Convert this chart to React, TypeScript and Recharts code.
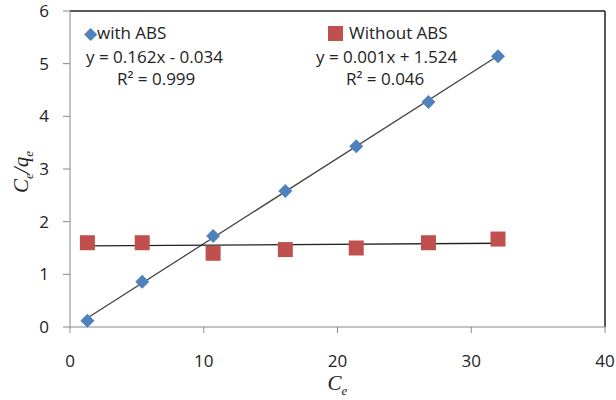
import {
  ComposedChart,
  Line,
  ReferenceLine,
  Scatter,
  XAxis,
  YAxis,
} from "recharts";

// C_e values (x) and C_e/q_e values (y)
const withAbs = [
  { x: 1.3, y: 0.12 },
  { x: 5.4, y: 0.86 },
  { x: 10.7, y: 1.73 },
  { x: 16.1, y: 2.58 },
  { x: 21.4, y: 3.43 },
  { x: 26.8, y: 4.27 },
  { x: 32.0, y: 5.14 },
];

const withoutAbs = [
  { x: 1.3, y: 1.6 },
  { x: 5.4, y: 1.6 },
  { x: 10.7, y: 1.4 },
  { x: 16.1, y: 1.47 },
  { x: 21.4, y: 1.5 },
  { x: 26.8, y: 1.6 },
  { x: 32.0, y: 1.67 },
];

// linear trendline end points
const trendWithAbs = [
  { x: 1.3, y: 0.17 },
  { x: 32.0, y: 5.15 },
];
const trendWithoutAbs = [
  { x: 1.3, y: 1.54 },
  { x: 32.0, y: 1.59 },
];

const xTicks = [0, 10, 20, 30, 40];
const yTicks = [0, 1, 2, 3, 4, 5, 6];

const BLUE = "#4F81BD";
const RED = "#C0504D";
const TXT = "#222";
const FONT = "'Open Sans', sans-serif";

const Diamond = (props: any) => {
  const { cx, cy } = props;
  const r = 7;
  return (
    <path
      d={`M${cx},${cy - r}L${cx + r},${cy}L${cx},${cy + r}L${cx - r},${cy}Z`}
      fill={BLUE}
    />
  );
};

const Square = (props: any) => {
  const { cx, cy } = props;
  const s = 7.5;
  return <rect x={cx - s} y={cy - s} width={s * 2} height={s * 2} fill={RED} />;
};

const LegendBox = () => (
  <div
    style={{
      position: "absolute",
      left: 0,
      top: 0,
      width: 616,
      height: 100,
      fontFamily: FONT,
      fontSize: 17,
      color: TXT,
      lineHeight: "22px",
      pointerEvents: "none",
    }}
  >
    <div style={{ position: "absolute", left: 84, top: 22 }}>
      <span style={{ color: BLUE, fontSize: 17 }}>◆</span>with ABS
    </div>
    <div style={{ position: "absolute", left: 86, top: 46 }}>y = 0.162x - 0.034</div>
    <div style={{ position: "absolute", left: 117, top: 68 }}>R² = 0.999</div>
    <div style={{ position: "absolute", left: 328, top: 22 }}>
      <span
        style={{
          display: "inline-block",
          width: 15,
          height: 15,
          background: RED,
          verticalAlign: "-2px",
          marginRight: 6,
        }}
      />
      Without ABS
    </div>
    <div style={{ position: "absolute", left: 316, top: 46 }}>y = 0.001x + 1.524</div>
    <div style={{ position: "absolute", left: 346, top: 68 }}>R² = 0.046</div>
  </div>
);

export default function App() {
  return (
    <div style={{ position: "absolute", left: 0, top: 0, background: "#fff" }}>
      <ComposedChart
        width={616}
        height={400}
        margin={{ top: 11, right: 11, bottom: 0, left: 0 }}
      >
        <XAxis
          type="number"
          dataKey="x"
          domain={[0, 40]}
          ticks={xTicks}
          height={73}
          stroke="#888"
          tickSize={6}
          tickMargin={22}
          tick={{ fill: TXT, fontSize: 17, fontFamily: FONT }}
          label={{
            content: (p: any) => {
              const vb = p.viewBox;
              return (
                <text
                  x={vb.x + vb.width / 2}
                  y={390}
                  textAnchor="middle"
                  fontFamily="'Liberation Serif', serif"
                  fontStyle="italic"
                  fontSize={21}
                  fill={TXT}
                >
                  C
                  <tspan fontSize={13} dy={5}>
                    e
                  </tspan>
                </text>
              );
            },
          }}
        />
        <YAxis
          type="number"
          domain={[0, 6]}
          ticks={yTicks}
          width={70}
          stroke="#888"
          tickSize={7}
          tickMargin={14}
          tick={{ fill: TXT, fontSize: 17, fontFamily: FONT }}
          label={{
            content: () => (
              <text
                transform="translate(28,172) rotate(-90)"
                textAnchor="middle"
                fontFamily="'Liberation Serif', serif"
                fontStyle="italic"
                fontSize={21}
                fill={TXT}
              >
                C
                <tspan fontSize={13} dy={5}>
                  e
                </tspan>
                <tspan dy={-5}>/q</tspan>
                <tspan fontSize={13} dy={5}>
                  e
                </tspan>
              </text>
            ),
          }}
        />
        <ReferenceLine y={6} stroke="#222" strokeWidth={1.5} />
        <ReferenceLine x={40} stroke="#222" strokeWidth={1.5} />
        <Line
          data={trendWithAbs}
          dataKey="y"
          stroke="#444"
          strokeWidth={1.3}
          dot={false}
          activeDot={false}
          isAnimationActive={false}
        />
        <Line
          data={trendWithoutAbs}
          dataKey="y"
          stroke="#222"
          strokeWidth={1.3}
          dot={false}
          activeDot={false}
          isAnimationActive={false}
        />
        <Scatter
          name="with ABS"
          data={withAbs}
          dataKey="y"
          shape={<Diamond />}
          isAnimationActive={false}
        />
        <Scatter
          name="Without ABS"
          data={withoutAbs}
          dataKey="y"
          shape={<Square />}
          isAnimationActive={false}
        />
      </ComposedChart>
      <LegendBox />
    </div>
  );
}
